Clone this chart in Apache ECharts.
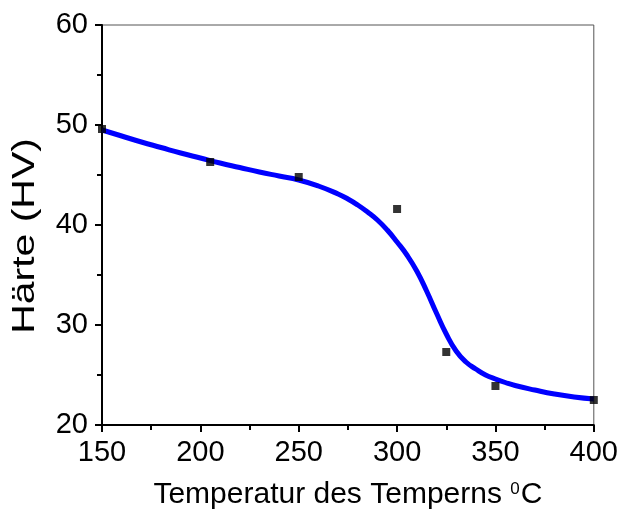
<!DOCTYPE html>
<html>
<head>
<meta charset="utf-8">
<script src="https://cdn.jsdelivr.net/npm/echarts@6/dist/echarts.min.js"></script>
<style>
  html, body { margin: 0; padding: 0; background: #fff; }
  #chart { width: 621px; height: 518px; }
</style>
</head>
<body>
<div id="chart"></div>
<script>
// gemessene Punkte (Temperatur, Härte)
const measTemp = [150, 205, 250, 300, 325, 350, 400]
const measHard = [49.6, 46.3, 44.8, 41.6, 27.3, 23.9, 22.5]

// Fitkurve
const fitTemp = [150, 160, 170, 180, 190, 200, 210, 220, 230, 240, 250, 260, 270, 275, 280, 285, 290, 295, 300, 305, 310, 315, 320, 325, 330, 335, 340, 345, 350, 355, 360, 370, 380, 390, 400]
const fitHard = [49.5, 48.9, 48.3, 47.75, 47.2, 46.7, 46.2, 45.75, 45.3, 44.9, 44.5, 43.9, 43.1, 42.6, 42.0, 41.3, 40.5, 39.5, 38.3, 37.0, 35.4, 33.4, 31.2, 29.1, 27.4, 26.3, 25.6, 25.0, 24.6, 24.25, 23.95, 23.5, 23.1, 22.8, 22.6]

const xTicks = [150, 200, 250, 300, 350, 400]
const yTicks = [20, 30, 40, 50, 60]

const font = '"Liberation Sans", Arial, sans-serif'

const chart = echarts.init(document.getElementById('chart'))

chart.setOption({
  animation: false,
  grid: {
    left: 102,
    right: 27,
    top: 25,
    bottom: 93,
    show: true,
    borderColor: '#555',
    borderWidth: 1
  },
  xAxis: {
    type: 'value',
    min: xTicks[0],
    max: xTicks[xTicks.length - 1],
    interval: 50,
    name: 'Temperatur des Temperns {sup|0}C',
    nameLocation: 'middle',
    nameGap: 55,
    nameTextStyle: {
      fontFamily: font,
      fontSize: 30,
      color: '#000',
      rich: {
        sup: { fontFamily: font, fontSize: 17, color: '#000', padding: [0, 1, 12, 0] }
      }
    },
    axisLine: { lineStyle: { color: '#000', width: 2 } },
    axisTick: { inside: false, length: 7, lineStyle: { color: '#000', width: 2 } },
    minorTick: { show: true, splitNumber: 2, length: 5, lineStyle: { color: '#000', width: 2 } },
    splitLine: { show: false },
    axisLabel: { fontFamily: font, fontSize: 29, color: '#000', margin: 13 }
  },
  yAxis: {
    type: 'value',
    min: yTicks[0],
    max: yTicks[yTicks.length - 1],
    interval: 10,
    axisLine: { show: true, lineStyle: { color: '#000', width: 2 } },
    axisTick: { show: true, inside: false, length: 7, lineStyle: { color: '#000', width: 2 } },
    minorTick: { show: true, splitNumber: 2, length: 5, lineStyle: { color: '#000', width: 2 } },
    splitLine: { show: false },
    axisLabel: { fontFamily: font, fontSize: 29, color: '#000', margin: 14 }
  },
  graphic: [
    {
      type: 'text',
      x: 25,
      y: 236,
      rotation: Math.PI / 2,
      scaleX: 1.28,
      style: {
        text: 'Härte (HV)',
        font: '32px ' + font,
        fill: '#000',
        align: 'center',
        verticalAlign: 'middle'
      }
    }
  ],
  series: [
    {
      type: 'line',
      data: fitTemp.map((t, i) => [t, fitHard[i]]),
      showSymbol: false,
      smooth: 0.5,
      lineStyle: { color: '#0000ff', width: 5 },
      z: 2
    },
    {
      type: 'scatter',
      data: measTemp.map((t, i) => [t, measHard[i]]),
      symbol: 'rect',
      symbolSize: 8,
      itemStyle: { color: '#000' },
      z: 3
    }
  ]
})
</script>
</body>
</html>
